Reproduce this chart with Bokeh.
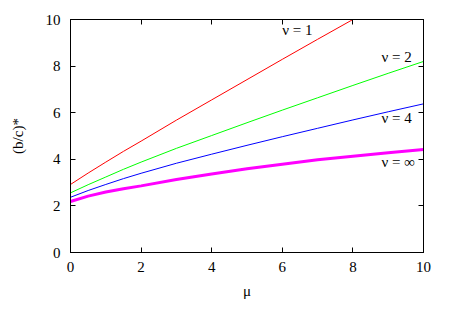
from bokeh.plotting import figure
from bokeh.models import Range1d, LinearAxis, Label, FixedTicker
from bokeh.embed import file_html
from bokeh.resources import INLINE

mu = [0, 0.5, 1, 1.5, 2, 3, 4, 5, 6, 7, 8, 9, 10]
nu1 = [2.92, 3.41, 3.88, 4.34, 4.78, 5.68, 6.55, 7.42, 8.29, 9.15, 10.0, 10.84, 11.67]
nu2 = [2.56, 2.91, 3.24, 3.57, 3.88, 4.47, 5.02, 5.57, 6.11, 6.64, 7.17, 7.69, 8.20]
nu4 = [2.37, 2.66, 2.92, 3.17, 3.40, 3.83, 4.22, 4.60, 4.97, 5.33, 5.69, 6.04, 6.38]
nuinf = [2.19, 2.42, 2.60, 2.74, 2.86, 3.13, 3.37, 3.59, 3.79, 3.98, 4.13, 4.28, 4.42]
ticks = [0, 2, 4, 6, 8, 10]
labels = ["ν = 1", "ν = 2", "ν = 4", "ν = ∞"]
label_x = [6.0, 8.81, 8.81, 8.81]
label_y = [9.53, 8.37, 5.79, 3.90]

FONT = "Liberation Serif"
FS = "15px"

p = figure(width=445, height=312, output_backend="svg", toolbar_location=None,
           x_range=Range1d(0, 10), y_range=Range1d(0, 10),
           min_border_left=70, min_border_right=22, min_border_top=19, min_border_bottom=60)
p.grid.visible = False
p.outline_line_color = "black"
p.outline_line_width = 1
p.background_fill_color = "white"
p.border_fill_color = "white"

def style(ax, show_labels=True):
    ax.ticker = FixedTicker(ticks=ticks)
    ax.major_tick_in = 5
    ax.major_tick_out = 0
    ax.minor_tick_line_color = None
    ax.axis_line_color = "black"
    ax.major_tick_line_color = "black"
    ax.major_label_text_font = FONT
    ax.major_label_text_color = "black"
    ax.major_label_text_font_size = FS
    ax.axis_label_text_color = "black"
    if not show_labels:
        ax.major_label_overrides = {t: "" for t in ticks}
        ax.major_label_standoff = 0

style(p.xaxis[0])
style(p.yaxis[0])
p.xaxis[0].major_label_standoff = 9
p.yaxis[0].major_label_standoff = 10
p.xaxis[0].axis_label = "μ"
p.xaxis[0].axis_label_text_font = FONT
p.xaxis[0].axis_label_text_font_style = "normal"
p.xaxis[0].axis_label_text_font_size = FS
p.xaxis[0].axis_label_standoff = 8
p.yaxis[0].axis_label = "(b/c)*"
p.yaxis[0].axis_label_text_font = FONT
p.yaxis[0].axis_label_text_font_style = "normal"
p.yaxis[0].axis_label_text_font_size = FS
p.yaxis[0].axis_label_standoff = 17

top = LinearAxis()
right = LinearAxis()
style(top, False)
style(right, False)
p.add_layout(top, "above")
p.add_layout(right, "right")

p.line(mu, nu1, line_color="#ff0000", line_width=1)
p.line(mu, nu2, line_color="#00ff00", line_width=1)
p.line(mu, nu4, line_color="#0000ff", line_width=1)
p.line(mu, nuinf, line_color="#ff00ff", line_width=3)

for t, x, y in zip(labels, label_x, label_y):
    p.add_layout(Label(x=x, y=y, text=t, text_font=FONT, text_font_size=FS,
                       text_baseline="middle", text_align="left", text_color="black"))

open("out.html", "w").write(file_html(p, INLINE))
